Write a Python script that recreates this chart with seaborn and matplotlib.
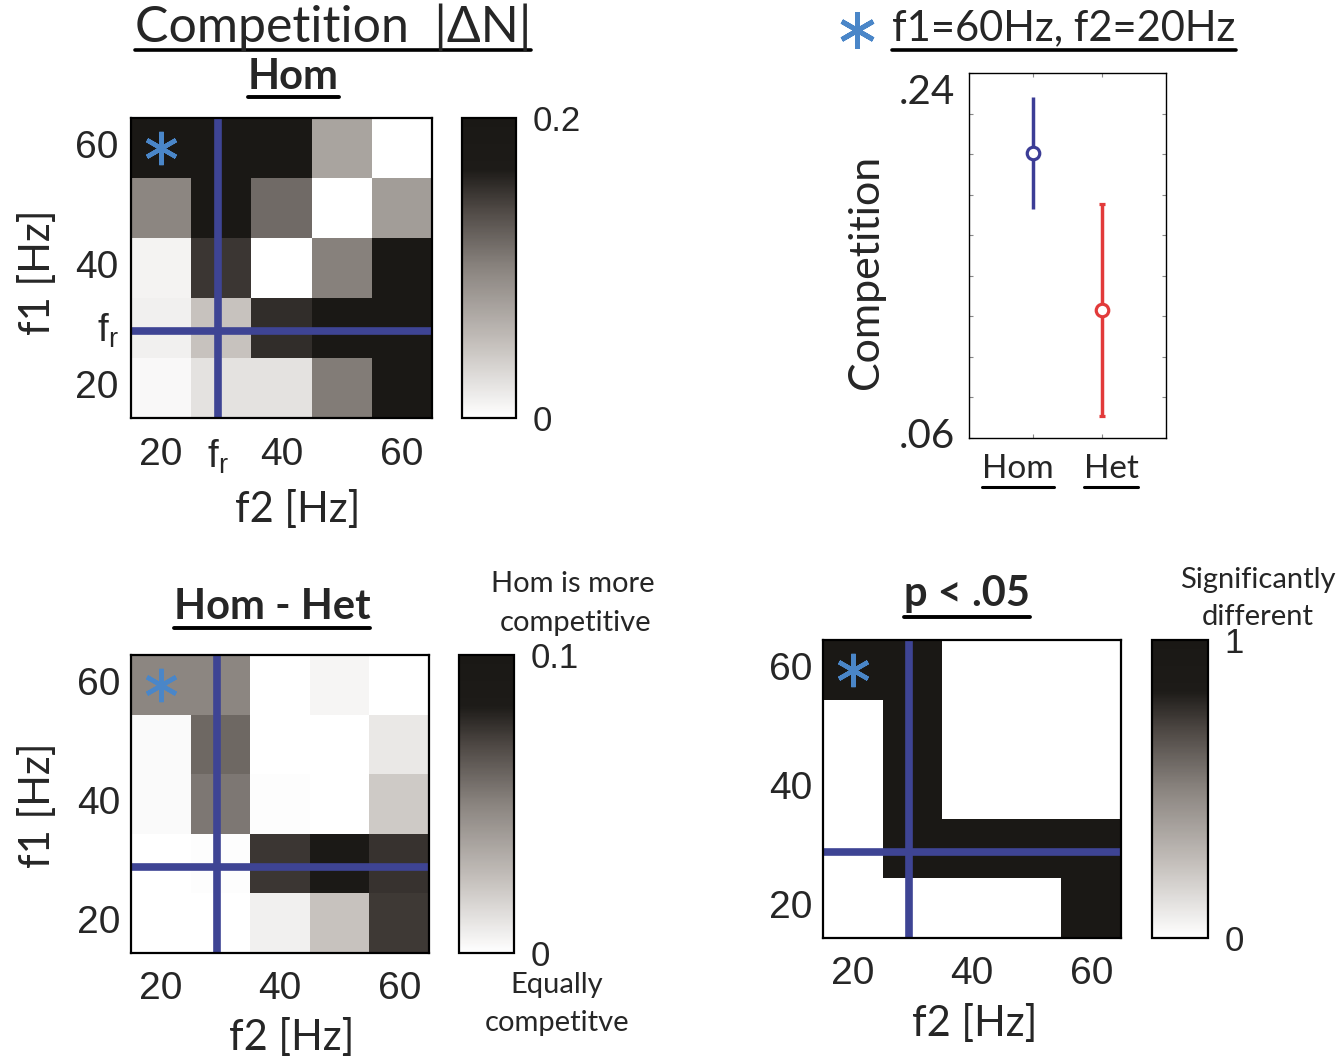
import numpy as np
import pandas as pd
import matplotlib
matplotlib.use("Agg")
import matplotlib.pyplot as plt
import seaborn as sns
from matplotlib.colors import LinearSegmentedColormap
from matplotlib.lines import Line2D
from matplotlib.ticker import MultipleLocator
from matplotlib.transforms import IdentityTransform
from matplotlib.font_manager import FontProperties

# ---------------- data ----------------
f2_cols = [20, 30, 40, 50, 60]
f1_rows = [60, 50, 40, 30, 20]
f_res = 29.5

hom = [[0.22, 0.21, 0.21, 0.073, 0.0],
       [0.098, 0.21, 0.117, 0.0, 0.079],
       [0.010, 0.150, 0.0, 0.102, 0.22],
       [0.012, 0.048, 0.155, 0.21, 0.22],
       [0.006, 0.023, 0.023, 0.105, 0.21]]

hom_minus_het = [[0.049, 0.049, 0.0, 0.004, 0.0],
                 [0.002, 0.059, 0.0, 0.0, 0.009],
                 [0.002, 0.054, 0.001, 0.0, 0.021],
                 [0.0, 0.001, 0.075, 0.092, 0.076],
                 [0.0, 0.0, 0.006, 0.024, 0.074]]

significant = [[1, 1, 0, 0, 0],
               [0, 1, 0, 0, 0],
               [0, 1, 0, 0, 0],
               [0, 1, 1, 1, 1],
               [0, 0, 0, 0, 1]]

groups = ["Hom", "Het"]
comp_mean = [0.2005, 0.1231]
comp_err = [0.0277, 0.0523]
group_colors = ["#3c3d96", "#e23a3a"]

# ---------------- style ----------------
sns.set_style("white")
plt.rcParams["font.family"] = ["Lato", "DejaVu Sans"]
plt.rcParams["mathtext.default"] = "regular"
plt.rcParams["mathtext.fontset"] = "custom"
plt.rcParams["mathtext.rm"] = "Liberation Sans"
plt.rcParams["mathtext.it"] = "Liberation Sans"
TEXTFONT = ["Lato", "DejaVu Sans"]

W, H = 1340, 1061
fig = plt.figure(figsize=(W / 100, H / 100), dpi=100)

cmap = LinearSegmentedColormap.from_list(
    "mgray", [(0, "#ffffff"), (0.25, "#c4bfbb"), (0.5, "#8a847f"),
              (0.7, "#4d4743"), (0.83, "#1d1b18"), (1.0, "#1a1815")])
LINE_BLUE = "#3e4494"
STAR_BLUE = "#4a86c8"


def add_ax(x0, y0, x1, y1):
    return fig.add_axes([x0 / W, 1 - y1 / H, (x1 - x0) / W, (y1 - y0) / H])


def px(x, y):
    return x / W, 1 - y / H


def T(x, y, s, size, **kw):
    kw.setdefault("ha", "center")
    kw.setdefault("va", "center")
    kw.setdefault("family", TEXTFONT)
    return fig.text(*px(x, y), s, fontsize=size, **kw)


def pos_x(f):
    return (f - 15) / 10.0


def pos_y(f):
    return (65 - f) / 10.0


def heat(ax, cax, mat, vmax, cb_labels, xt, xtl, yt, ytl, fs, xpad, ypad):
    df = pd.DataFrame(mat, index=f1_rows, columns=f2_cols)
    sns.heatmap(df, ax=ax, cbar_ax=cax, cmap=cmap, vmin=0, vmax=vmax,
                cbar_kws={"ticks": [0, vmax]})
    ax.axvline(pos_x(f_res), color=LINE_BLUE, lw=5.5)
    ax.axhline(pos_y(f_res), color=LINE_BLUE, lw=5.5)
    ax.plot([pos_x(20)], [pos_y(60)], marker=(6, 2, 0), ms=24, mew=3.2,
            color=STAR_BLUE, ls="none")
    fp = FontProperties(family="Liberation Sans", size=fs)
    ax.set_xticks([pos_x(v) for v in xt])
    ax.set_xticklabels(xtl, rotation=0)
    ax.set_yticks([pos_y(v) for v in yt])
    ax.set_yticklabels(ytl, rotation=0)
    for lbl in ax.get_xticklabels() + ax.get_yticklabels():
        lbl.set_fontproperties(fp)
    ax.set_xlabel("")
    ax.set_ylabel("")
    ax.tick_params(direction="in", length=4, width=1, color="#333333",
                   top=True, right=True, bottom=True, left=True,
                   labelbottom=True, labelleft=True)
    ax.tick_params(axis="x", pad=xpad)
    ax.tick_params(axis="y", pad=ypad)
    for sp in ax.spines.values():
        sp.set_visible(True)
        sp.set_color("black")
        sp.set_linewidth(1.6)
    cax.set_yticklabels(cb_labels)
    fp2 = FontProperties(family="Liberation Sans", size=fs - 3)
    for lbl in cax.get_yticklabels():
        lbl.set_fontproperties(fp2)
    cax.tick_params(length=0, pad=12)
    cb = ax.collections[0].colorbar
    cb.outline.set_visible(True)
    cb.outline.set_edgecolor("black")
    cb.outline.set_linewidth(1.6)


fr = "f$_{r}$"

# ---- top-left: Hom ----
ax1 = add_ax(131, 118, 432, 418)
cax1 = add_ax(462, 118, 516, 418)
heat(ax1, cax1, hom, 0.2, ["0", "0.2"],
     [20, f_res, 40, 60], ["20", fr, "40", "60"],
     [60, 40, f_res, 20], ["60", "40", fr, "20"], 28, 14, 9)

# ---- bottom-left: Hom - Het ----
ax3 = add_ax(131, 655, 429, 953)
cax3 = add_ax(459, 655, 514, 953)
heat(ax3, cax3, hom_minus_het, 0.1, ["0", "0.1"],
     [20, 40, 60], ["20", "40", "60"],
     [60, 40, 20], ["60", "40", "20"], 28, 13, 8)

# ---- bottom-right: p < .05 ----
ax4 = add_ax(823, 640, 1121, 938)
cax4 = add_ax(1152, 640, 1208, 938)
heat(ax4, cax4, significant, 1, ["0", "1"],
     [20, 40, 60], ["20", "40", "60"],
     [60, 40, 20], ["60", "40", "20"], 28, 13, 8)

# ---- top-right: errorbar plot ----
ax2 = add_ax(969, 73, 1166, 438)
xpos = [1, 2]
for i, g in enumerate(groups):
    ax2.errorbar([xpos[i]], [comp_mean[i]], yerr=[comp_err[i]], fmt="o",
                 color=group_colors[i], mfc="white", mec=group_colors[i],
                 ms=9, mew=2.3, elinewidth=2.5,
                 capsize=(2 if i == 1 else 0), capthick=2.5)
ax2.set_xlim(0.07, 2.93)
ax2.set_ylim(0.06, 0.24)
ax2.set_xticks(xpos)
ax2.set_xticklabels([])
ax2.yaxis.set_major_locator(MultipleLocator(0.02))
ax2.set_yticklabels([])
ax2.tick_params(direction="in", length=3, width=0.8, color="#888888",
                top=True, right=True, bottom=True, left=True)
for sp in ax2.spines.values():
    sp.set_visible(True)
    sp.set_color("black")
    sp.set_linewidth(1.0)
ax2.text(-0.07, 0.2395, ".24", transform=ax2.get_yaxis_transform(),
         ha="right", va="top", fontsize=29, family=TEXTFONT)
ax2.text(-0.07, 0.0605, ".06", transform=ax2.get_yaxis_transform(),
         ha="right", va="center", fontsize=29, family=TEXTFONT)

# ---------------- texts ----------------
underlines = []
t = T(333, 27, "Competition  |ΔN|", 36)
underlines.append((t, 50, 2.6))
t = T(293, 77, "Hom", 30, weight="bold")
underlines.append((t, 97, 2.8))
T(38, 272, "f1 [Hz]", 30, rotation=90)
T(298, 510, "f2 [Hz]", 30)

fig.add_artist(Line2D([857 / W], [1 - 30 / H], marker=(6, 2, 0), ms=26,
                      mew=3.5, color=STAR_BLUE, transform=fig.transFigure))
t = T(1064, 28, "f1=60Hz, f2=20Hz", 30)
underlines.append((t, 50, 2.6))
T(866, 272, "Competition", 31, rotation=90)
t = T(1018, 469, "Hom", 24)
underlines.append((t, 487, 2.2))
t = T(1111, 469, "Het", 24)
underlines.append((t, 487, 2.2))

t = T(272, 607, "Hom - Het", 30, weight="bold")
underlines.append((t, 628, 2.8))
T(573, 584, "Hom is more", 21)
T(576, 623, "competitive", 21)
T(557, 985, "Equally", 21)
T(557, 1023, "competitve", 21)
T(38, 805, "f1 [Hz]", 30, rotation=90)
T(292, 1038, "f2 [Hz]", 30)

t = T(967, 594, "p < .05", 30, weight="bold")
underlines.append((t, 617, 2.8))
T(1258, 580, "Significantly", 21)
T(1258, 617, "different", 21)
T(975, 1023, "f2 [Hz]", 30)

fig.canvas.draw()
renderer = fig.canvas.get_renderer()
for txt, ypx, lw in underlines:
    bb = txt.get_window_extent(renderer)
    y = H - ypx
    fig.add_artist(Line2D([bb.x0, bb.x1], [y, y], color="black", lw=lw,
                          transform=IdentityTransform()))

fig.savefig("out.png", dpi=100)
